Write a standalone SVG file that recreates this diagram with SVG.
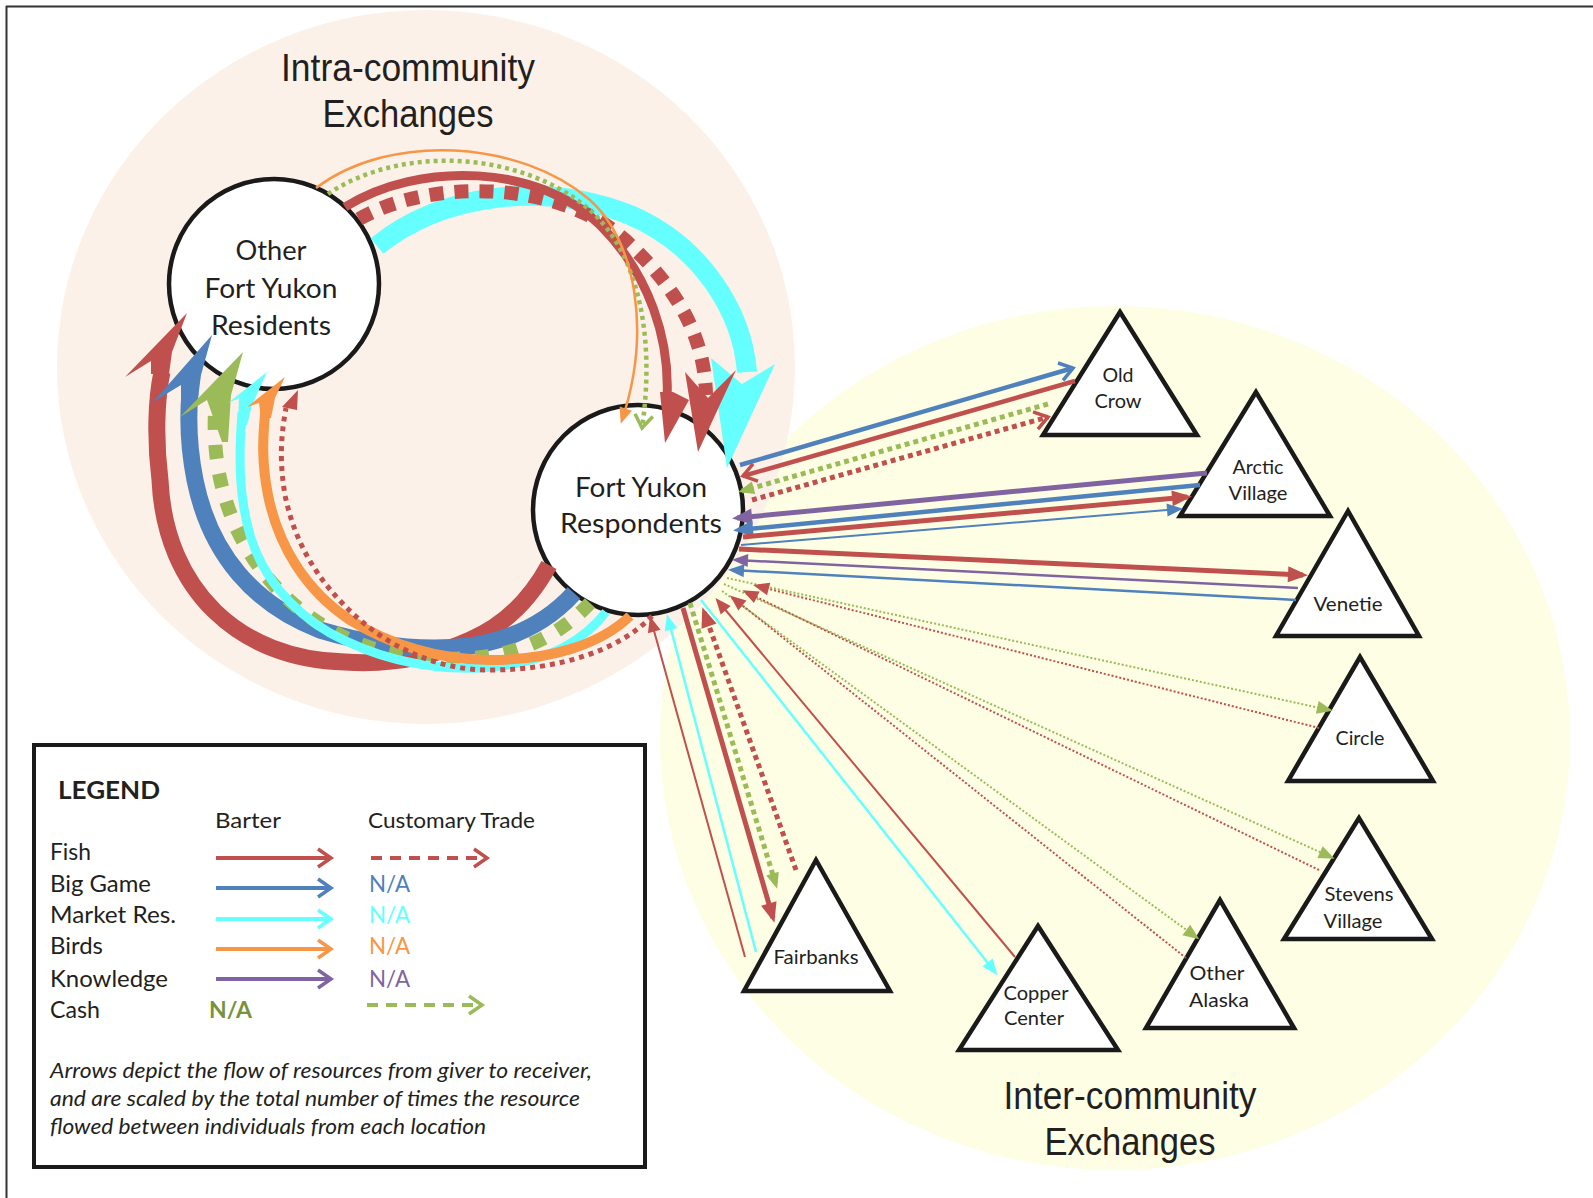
<svg xmlns="http://www.w3.org/2000/svg" width="1593" height="1198" viewBox="0 0 1593 1198">
<defs>
<style>
.lbl{font-family:Lato,"Open Sans","Liberation Sans",sans-serif;fill:#231f20;}
.title{font-family:"Liberation Sans Narrow","Liberation Sans",sans-serif;fill:#231f20;font-size:38px;}
.node{fill:#fff;stroke:#1a1a1a;stroke-width:4.5;}
.tri{fill:#fff;stroke:#1a1a1a;stroke-width:4.5;stroke-linejoin:miter;}
.tn{font-size:20px;text-anchor:middle;}
.ln{fill:none;stroke-linecap:butt;}
.r{stroke:#C0504D;} .b{stroke:#4F81BD;} .c{stroke:#66FFFF;} .o{stroke:#F79646;} .p{stroke:#8064A2;} .g{stroke:#9BBB59;}
.fr{fill:#C0504D;} .fb{fill:#4F81BD;} .fc{fill:#66FFFF;} .fo{fill:#F79646;} .fp{fill:#8064A2;} .fg{fill:#9BBB59;}
.leg{font-size:23px;}
.na{font-size:23px;}
.note{font-size:20.5px;font-style:italic;}
</style>
<marker id="tr" markerUnits="userSpaceOnUse" markerWidth="22" markerHeight="18" refX="15" refY="8" orient="auto" overflow="visible"><path d="M0,0 L20,8 L0,16 z" fill="#C0504D"/></marker>
<marker id="tb" markerUnits="userSpaceOnUse" markerWidth="22" markerHeight="18" refX="15" refY="8" orient="auto" overflow="visible"><path d="M0,0 L20,8 L0,16 z" fill="#4F81BD"/></marker>
<marker id="tp" markerUnits="userSpaceOnUse" markerWidth="22" markerHeight="18" refX="15" refY="8" orient="auto" overflow="visible"><path d="M0,0 L20,8 L0,16 z" fill="#8064A2"/></marker>
<marker id="tsr" markerUnits="userSpaceOnUse" markerWidth="18" markerHeight="14" refX="12" refY="6.5" orient="auto" overflow="visible"><path d="M0,0 L16,6.5 L0,13 z" fill="#C0504D"/></marker>
<marker id="tsb" markerUnits="userSpaceOnUse" markerWidth="18" markerHeight="14" refX="12" refY="6.5" orient="auto" overflow="visible"><path d="M0,0 L16,6.5 L0,13 z" fill="#4F81BD"/></marker>
<marker id="tsp" markerUnits="userSpaceOnUse" markerWidth="18" markerHeight="14" refX="12" refY="6.5" orient="auto" overflow="visible"><path d="M0,0 L16,6.5 L0,13 z" fill="#8064A2"/></marker>
<marker id="tsg" markerUnits="userSpaceOnUse" markerWidth="18" markerHeight="14" refX="12" refY="6.5" orient="auto" overflow="visible"><path d="M0,0 L16,6.5 L0,13 z" fill="#9BBB59"/></marker>
<marker id="tsc" markerUnits="userSpaceOnUse" markerWidth="18" markerHeight="14" refX="12" refY="6.5" orient="auto" overflow="visible"><path d="M0,0 L16,6.5 L0,13 z" fill="#66FFFF"/></marker>
<marker id="tso" markerUnits="userSpaceOnUse" markerWidth="18" markerHeight="14" refX="12" refY="6.5" orient="auto" overflow="visible"><path d="M0,0 L16,6.5 L0,13 z" fill="#F79646"/></marker>
<marker id="cvr" markerUnits="userSpaceOnUse" markerWidth="18" markerHeight="22" refX="14" refY="10" orient="auto" overflow="visible"><path d="M1,1 L14,10 L1,19" fill="none" stroke="#C0504D" stroke-width="3.5"/></marker>
<marker id="cvb" markerUnits="userSpaceOnUse" markerWidth="18" markerHeight="22" refX="14" refY="10" orient="auto" overflow="visible"><path d="M1,1 L14,10 L1,19" fill="none" stroke="#4F81BD" stroke-width="3.5"/></marker>
<marker id="cvc" markerUnits="userSpaceOnUse" markerWidth="18" markerHeight="22" refX="14" refY="10" orient="auto" overflow="visible"><path d="M1,1 L14,10 L1,19" fill="none" stroke="#66FFFF" stroke-width="3.5"/></marker>
<marker id="cvo" markerUnits="userSpaceOnUse" markerWidth="18" markerHeight="22" refX="14" refY="10" orient="auto" overflow="visible"><path d="M1,1 L14,10 L1,19" fill="none" stroke="#F79646" stroke-width="3.5"/></marker>
<marker id="cvp" markerUnits="userSpaceOnUse" markerWidth="18" markerHeight="22" refX="14" refY="10" orient="auto" overflow="visible"><path d="M1,1 L14,10 L1,19" fill="none" stroke="#8064A2" stroke-width="3.5"/></marker>
<marker id="cvg" markerUnits="userSpaceOnUse" markerWidth="18" markerHeight="22" refX="14" refY="10" orient="auto" overflow="visible"><path d="M1,1 L14,10 L1,19" fill="none" stroke="#9BBB59" stroke-width="3.5"/></marker>
</defs>

<g id="background">
<rect x="0" y="0" width="1593" height="1198" fill="#fff"/>
<line x1="6" y1="6.5" x2="1593" y2="6.5" stroke="#333" stroke-width="2"/>
<line x1="6.5" y1="6" x2="6.5" y2="1198" stroke="#333" stroke-width="2"/>
<ellipse cx="1115" cy="738" rx="455" ry="432" fill="#FEFEE4"/>
<ellipse cx="426" cy="367" rx="369" ry="357" fill="#FCF1E8"/>
<text class="title" x="408" y="81" text-anchor="middle" textLength="254" lengthAdjust="spacingAndGlyphs">Intra-community</text>
<text class="title" x="408" y="127" text-anchor="middle" textLength="171" lengthAdjust="spacingAndGlyphs">Exchanges</text>
<text class="title" x="1130" y="1109" text-anchor="middle" textLength="253" lengthAdjust="spacingAndGlyphs">Inter-community</text>
<text class="title" x="1130" y="1155" text-anchor="middle" textLength="171" lengthAdjust="spacingAndGlyphs">Exchanges</text>
</g>

<g id="node-other-residents">
<circle class="node" cx="274" cy="284" r="105"/>
<text class="lbl" font-size="27" x="271" y="260" text-anchor="middle" textLength="71" lengthAdjust="spacingAndGlyphs">Other</text>
<text class="lbl" font-size="27" x="271" y="298" text-anchor="middle" textLength="133" lengthAdjust="spacingAndGlyphs">Fort Yukon</text>
<text class="lbl" font-size="27" x="271" y="335" text-anchor="middle" textLength="120" lengthAdjust="spacingAndGlyphs">Residents</text>
</g>

<g id="node-fy-respondents">
<circle class="node" cx="638" cy="510" r="105"/>
<text class="lbl" font-size="27" x="641" y="497" text-anchor="middle" textLength="132" lengthAdjust="spacingAndGlyphs">Fort Yukon</text>
<text class="lbl" font-size="27" x="641" y="533" text-anchor="middle" textLength="162" lengthAdjust="spacingAndGlyphs">Respondents</text>
</g>

<g id="node-old-crow">
<polygon class="tri" points="1120,312 1043,435 1197,435"/>
<text class="lbl tn" x="1118" y="382" textLength="31" lengthAdjust="spacingAndGlyphs">Old</text>
<text class="lbl tn" x="1118" y="408" textLength="47" lengthAdjust="spacingAndGlyphs">Crow</text>
</g>
<g id="node-arctic-village">
<polygon class="tri" points="1256,392 1180,516 1330,516"/>
<text class="lbl tn" x="1258" y="474" textLength="51" lengthAdjust="spacingAndGlyphs">Arctic</text>
<text class="lbl tn" x="1258" y="500" textLength="59" lengthAdjust="spacingAndGlyphs">Village</text>
</g>
<g id="node-venetie">
<polygon class="tri" points="1348,511 1276,636 1419,636"/>
<text class="lbl tn" x="1348" y="611" textLength="69" lengthAdjust="spacingAndGlyphs">Venetie</text>
</g>
<g id="node-circle">
<polygon class="tri" points="1360,657 1288,781 1433,781"/>
<text class="lbl tn" x="1360" y="745" textLength="49" lengthAdjust="spacingAndGlyphs">Circle</text>
</g>
<g id="node-stevens-village">
<polygon class="tri" points="1359,818 1284,939 1432,939"/>
<text class="lbl tn" x="1359" y="901" textLength="69" lengthAdjust="spacingAndGlyphs">Stevens</text>
<text class="lbl tn" x="1353" y="928" textLength="59" lengthAdjust="spacingAndGlyphs">Village</text>
</g>
<g id="node-other-alaska">
<polygon class="tri" points="1220,900 1146,1028 1294,1028"/>
<text class="lbl tn" x="1217" y="980" textLength="55" lengthAdjust="spacingAndGlyphs">Other</text>
<text class="lbl tn" x="1219" y="1007" textLength="60" lengthAdjust="spacingAndGlyphs">Alaska</text>
</g>
<g id="node-copper-center">
<polygon class="tri" points="1038,926 959,1050 1118,1050"/>
<text class="lbl tn" x="1036" y="1000" textLength="65" lengthAdjust="spacingAndGlyphs">Copper</text>
<text class="lbl tn" x="1034" y="1025" textLength="60" lengthAdjust="spacingAndGlyphs">Center</text>
</g>
<g id="node-fairbanks">
<polygon class="tri" points="816,860 744,991 890,991"/>
<text class="lbl tn" x="816" y="964" textLength="85" lengthAdjust="spacingAndGlyphs">Fairbanks</text>
</g>

<g id="connectors">
<!-- bottom arcs: FY respondents -> Other residents -->
<path class="ln r" stroke-width="17" d="M549,565 C530,600 505,625 470,640 C430,658 390,665 345,662 C240,660 165,590 160,480 C155,440 156,400 162,372"/>
<polygon class="fr" points="187,313 125,377 151,361 151,374 169,374 172,352"/>
<path class="ln b" stroke-width="17" d="M574,593 C545,625 510,640 470,646 C420,652 370,645 320,630 C255,605 210,555 195,480 C188,445 188,415 190,392"/>
<polygon class="fb" points="212,335 153,402 181,385 181,398 198,398 201,375"/>
<path class="ln g" stroke-width="14" stroke-dasharray="14 15" d="M590,603 C560,635 520,655 470,658 C420,661 380,655 340,635 C290,610 255,570 235,525 C220,490 213,455 215,410"/>
<polygon class="fg" points="243,352 180,417 207,400 222,442 228,442 231,395"/>
<path class="ln c" stroke-width="9" d="M606,612 C580,645 540,665 480,668 C420,670 370,655 330,633 C290,610 262,575 250,535 C240,500 238,465 242,412"/>
<polygon class="fc" points="267,372 228,403 239,398 238,425 247,425 252,405"/>
<path class="ln o" stroke-width="10" d="M630,616 C600,645 550,660 490,660 C440,660 390,645 350,620 C305,590 278,545 268,495 C262,465 262,440 266,405"/>
<polygon class="fo" points="285,377 247,407 259,403 261,418 271,418 275,398"/>
<path class="ln r" stroke-width="5" stroke-dasharray="5 5" d="M652,616 C620,650 560,670 490,670 C440,670 395,650 360,620 C320,585 295,545 285,495 C280,465 280,440 286,408"/>
<polygon class="fr" points="298,390 282,407 297,410"/>

<!-- top arcs: Other residents -> FY respondents -->
<path class="ln c" stroke-width="20" d="M377,246 C440,195 540,180 630,215 C700,245 742,310 747,372"/>
<polygon class="fc" points="727,468 711,358 742,384 775,364"/>
<path class="ln r" stroke-width="9" d="M345,207 C420,160 540,165 600,225 C650,275 670,340 667,398"/>
<polygon class="fr" points="665,443 660,392 673,392 689,400"/>
<path class="ln r" stroke-width="14" stroke-dasharray="14 11" d="M359,219 C430,178 560,180 625,240 C680,290 705,340 706,395"/>
<polygon class="fr" points="698,452 685,372 708,398 736,370"/>
<path class="ln g" stroke-width="4.5" stroke-dasharray="4 4" marker-end="url(#cvg)" d="M328,194 C400,145 520,150 590,210 C640,255 655,340 642,428"/>
<path class="ln o" stroke-width="2.5" marker-end="url(#tso)" d="M316,188 C390,132 520,140 590,200 C635,240 652,330 622,420"/>

<!-- Old Crow -->
<line class="ln b" stroke-width="4.5" marker-end="url(#cvb)" x1="740" y1="465" x2="1073" y2="368"/>
<line class="ln r" stroke-width="4.5" marker-end="url(#cvr)" x1="1075" y1="381" x2="743" y2="476"/>
<line class="ln g" stroke-width="5" stroke-dasharray="5 4" marker-end="url(#tsg)" x1="1048" y1="404" x2="742" y2="491"/>
<line class="ln r" stroke-width="5" stroke-dasharray="5 4" marker-end="url(#cvr)" x1="752" y1="500" x2="1048" y2="417"/>
<!-- Arctic Village -->
<line class="ln p" stroke-width="5" marker-end="url(#tp)" x1="1207" y1="473" x2="737" y2="518"/>
<line class="ln b" stroke-width="4.5" marker-end="url(#tb)" x1="1200" y1="485" x2="738" y2="530"/>
<line class="ln r" stroke-width="5" marker-end="url(#tr)" x1="743" y1="537" x2="1187" y2="497"/>
<line class="ln b" stroke-width="2" marker-end="url(#tsb)" x1="741" y1="545" x2="1179" y2="509"/>
<!-- Venetie -->
<line class="ln r" stroke-width="5" marker-end="url(#tr)" x1="739" y1="549" x2="1303" y2="575"/>
<line class="ln p" stroke-width="2.5" marker-end="url(#tsp)" x1="1298" y1="588" x2="736" y2="560"/>
<line class="ln b" stroke-width="2.5" marker-end="url(#tsb)" x1="1296" y1="600" x2="732" y2="570"/>
<!-- Circle -->
<line class="ln g" stroke-width="2" stroke-dasharray="2 2" marker-end="url(#tsg)" x1="727" y1="578" x2="1329" y2="710"/>
<line class="ln r" stroke-width="2" stroke-dasharray="2 2" marker-end="url(#tsr)" x1="1319" y1="728" x2="757" y2="586"/>
<!-- Stevens Village -->
<line class="ln g" stroke-width="2" stroke-dasharray="2 2" marker-end="url(#tsg)" x1="724" y1="584" x2="1331" y2="857"/>
<line class="ln r" stroke-width="2" stroke-dasharray="2 2" marker-end="url(#tsr)" x1="1319" y1="870" x2="746" y2="592"/>
<!-- Other Alaska -->
<line class="ln g" stroke-width="2" stroke-dasharray="2 2" marker-end="url(#tsg)" x1="722" y1="591" x2="1196" y2="937"/>
<line class="ln r" stroke-width="2" stroke-dasharray="2 2" marker-end="url(#tsr)" x1="1186" y1="958" x2="733" y2="598"/>
<!-- Copper Center -->
<line class="ln c" stroke-width="2.5" marker-end="url(#tsc)" x1="701" y1="600" x2="995" y2="972"/>
<line class="ln r" stroke-width="2" marker-end="url(#tsr)" x1="1015" y1="957" x2="718" y2="601"/>
<!-- Fairbanks -->
<line class="ln r" stroke-width="5" marker-end="url(#tr)" x1="683" y1="608" x2="773" y2="918"/>
<line class="ln g" stroke-width="5" stroke-dasharray="5 4" marker-end="url(#tsg)" x1="690" y1="603" x2="776" y2="885"/>
<line class="ln r" stroke-width="5" stroke-dasharray="5 4" marker-end="url(#tr)" x1="796" y1="870" x2="704" y2="612"/>
<line class="ln r" stroke-width="2" marker-end="url(#tsr)" x1="745" y1="957" x2="651" y2="620"/>
<line class="ln c" stroke-width="2.5" marker-end="url(#tsc)" x1="756" y1="952" x2="668" y2="618"/>
</g>

<g id="legend">
<rect x="34" y="745" width="611" height="422" fill="#fff" stroke="#1a1a1a" stroke-width="4"/>
<text class="lbl" x="58" y="799" font-size="24" font-weight="bold" textLength="102" lengthAdjust="spacingAndGlyphs">LEGEND</text>
<text class="lbl" x="215" y="828" font-size="22" textLength="66" lengthAdjust="spacingAndGlyphs">Barter</text>
<text class="lbl" x="368" y="828" font-size="22" textLength="167" lengthAdjust="spacingAndGlyphs">Customary Trade</text>
<text class="lbl leg" x="50" y="860" textLength="41" lengthAdjust="spacingAndGlyphs">Fish</text>
<text class="lbl leg" x="50" y="892" textLength="101" lengthAdjust="spacingAndGlyphs">Big Game</text>
<text class="lbl leg" x="50" y="923" textLength="126" lengthAdjust="spacingAndGlyphs">Market Res.</text>
<text class="lbl leg" x="50" y="954" textLength="53" lengthAdjust="spacingAndGlyphs">Birds</text>
<text class="lbl leg" x="50" y="987" textLength="118" lengthAdjust="spacingAndGlyphs">Knowledge</text>
<text class="lbl leg" x="50" y="1018" textLength="50" lengthAdjust="spacingAndGlyphs">Cash</text>
<line class="ln r" stroke-width="4" marker-end="url(#cvr)" x1="216" y1="858" x2="331" y2="858"/>
<line class="ln b" stroke-width="4" marker-end="url(#cvb)" x1="216" y1="888" x2="331" y2="888"/>
<line class="ln c" stroke-width="4" marker-end="url(#cvc)" x1="216" y1="919" x2="331" y2="919"/>
<line class="ln o" stroke-width="4" marker-end="url(#cvo)" x1="216" y1="949" x2="331" y2="949"/>
<line class="ln p" stroke-width="4" marker-end="url(#cvp)" x1="216" y1="979" x2="331" y2="979"/>
<line class="ln r" stroke-width="4" stroke-dasharray="11 8" marker-end="url(#cvr)" x1="371" y1="858" x2="487" y2="858"/>
<line class="ln g" stroke-width="4" stroke-dasharray="11 8" marker-end="url(#cvg)" x1="367" y1="1005" x2="482" y2="1005"/>
<text class="lbl na" x="369" y="892" style="fill:#4F81BD" textLength="41" lengthAdjust="spacingAndGlyphs">N/A</text>
<text class="lbl na" x="369" y="923" style="fill:#66FFFF" textLength="41" lengthAdjust="spacingAndGlyphs">N/A</text>
<text class="lbl na" x="369" y="954" style="fill:#F79646" textLength="41" lengthAdjust="spacingAndGlyphs">N/A</text>
<text class="lbl na" x="369" y="987" style="fill:#8064A2" textLength="41" lengthAdjust="spacingAndGlyphs">N/A</text>
<text class="lbl na" x="209" y="1018" font-weight="bold" style="fill:#77933C" textLength="43" lengthAdjust="spacingAndGlyphs">N/A</text>
<text class="lbl note" x="50" y="1078" textLength="542" lengthAdjust="spacingAndGlyphs">Arrows depict the flow of resources from giver to receiver,</text>
<text class="lbl note" x="50" y="1106" textLength="530" lengthAdjust="spacingAndGlyphs">and are scaled by the total number of times the resource</text>
<text class="lbl note" x="50" y="1134" textLength="436" lengthAdjust="spacingAndGlyphs">flowed between individuals from each location</text>
</g>
</svg>
